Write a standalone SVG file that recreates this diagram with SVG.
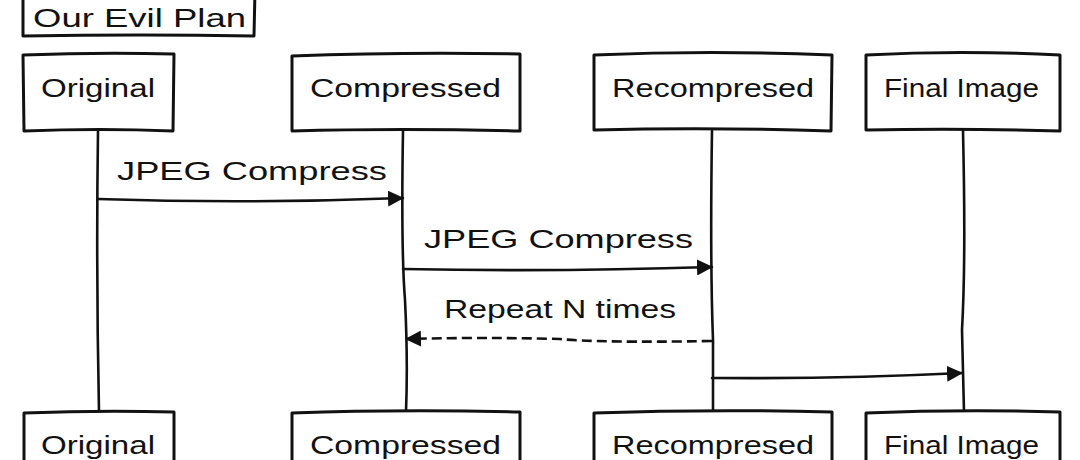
<svg xmlns="http://www.w3.org/2000/svg" width="1080" height="460" viewBox="0 0 1080 460">
<defs>
<style>
.bx{fill:#fff;stroke:#111;stroke-width:3;stroke-linejoin:round;stroke-linecap:round}
.ln{fill:none;stroke:#111;stroke-width:2.6;stroke-linecap:round}
.ds{fill:none;stroke:#111;stroke-width:2.6;stroke-dasharray:10 5}
.t{font-family:"Liberation Sans",Arial,sans-serif;font-size:26px;fill:#111}
</style>
<marker id="ah" viewBox="0 0 16 16" refX="15" refY="8" markerWidth="16" markerHeight="16" markerUnits="userSpaceOnUse" orient="auto">
<path d="M0,0 L16,8 L0,16 Z" fill="#111"/>
</marker>
</defs>
<rect width="1080" height="460" fill="#fff"/>
<g id="title">
<path class="bx" d="M23,-10 L255,-10 L254,36 Q140,34 23,36 Z"/>
<text class="t" x="33" y="27" textLength="213" lengthAdjust="spacingAndGlyphs">Our Evil Plan</text>
</g>
<g id="connectors">
<path class="ln" d="M98,131 Q96,270 99,412"/>
<path class="ln" d="M403,131 Q401,250 405,300 Q408,360 406,412"/>
<path class="ln" d="M712,131 Q710,260 713,340 L713,412"/>
<path class="ln" d="M963,131 Q966,260 962,330 L964,412"/>
<path class="ln" marker-end="url(#ah)" d="M98,199 Q250,204 403,198"/>
<path class="ln" marker-end="url(#ah)" d="M403,269 Q560,272 712,267"/>
<path class="ds" marker-end="url(#ah)" d="M712,341 Q600,343 560,339 Q480,337 406,339"/>
<path class="ln" marker-end="url(#ah)" d="M712,378 Q840,379 962,373"/>
<text class="t" x="117" y="180" textLength="270" lengthAdjust="spacingAndGlyphs">JPEG Compress</text>
<text class="t" x="424" y="248" textLength="269" lengthAdjust="spacingAndGlyphs">JPEG Compress</text>
<text class="t" x="444" y="318" textLength="232" lengthAdjust="spacingAndGlyphs">Repeat N times</text>
</g>
<g id="original-top">
<path class="bx" d="M23,55 Q100,52 174,54 L173,131 Q100,128 24,131 Z"/>
<text class="t" x="41" y="97" textLength="114" lengthAdjust="spacingAndGlyphs">Original</text>
</g>
<g id="compressed-top">
<path class="bx" d="M292,56 Q400,52 520,54 L520,131 Q400,128 292,131 Z"/>
<text class="t" x="310" y="97" textLength="191" lengthAdjust="spacingAndGlyphs">Compressed</text>
</g>
<g id="recompresed-top">
<path class="bx" d="M594,55 Q710,50 832,55 L831,131 Q710,127 594,130 Z"/>
<text class="t" x="612" y="97" textLength="202" lengthAdjust="spacingAndGlyphs">Recompresed</text>
</g>
<g id="final-top">
<path class="bx" d="M866,55 Q960,50 1060,55 L1060,131 Q960,128 866,130 Z"/>
<text class="t" x="884" y="97" textLength="155" lengthAdjust="spacingAndGlyphs">Final Image</text>
</g>
<g id="original-bottom">
<path class="bx" d="M24,413 Q100,410 174,412 L174,500 L24,500 Z"/>
<text class="t" x="41" y="454" textLength="114" lengthAdjust="spacingAndGlyphs">Original</text>
</g>
<g id="compressed-bottom">
<path class="bx" d="M292,413 Q400,409 520,412 L520,500 L292,500 Z"/>
<text class="t" x="310" y="454" textLength="191" lengthAdjust="spacingAndGlyphs">Compressed</text>
</g>
<g id="recompresed-bottom">
<path class="bx" d="M594,413 Q710,409 832,412 L832,500 L594,500 Z"/>
<text class="t" x="612" y="454" textLength="202" lengthAdjust="spacingAndGlyphs">Recompresed</text>
</g>
<g id="final-bottom">
<path class="bx" d="M866,413 Q960,409 1060,412 L1060,500 L866,500 Z"/>
<text class="t" x="884" y="454" textLength="155" lengthAdjust="spacingAndGlyphs">Final Image</text>
</g>
</svg>
